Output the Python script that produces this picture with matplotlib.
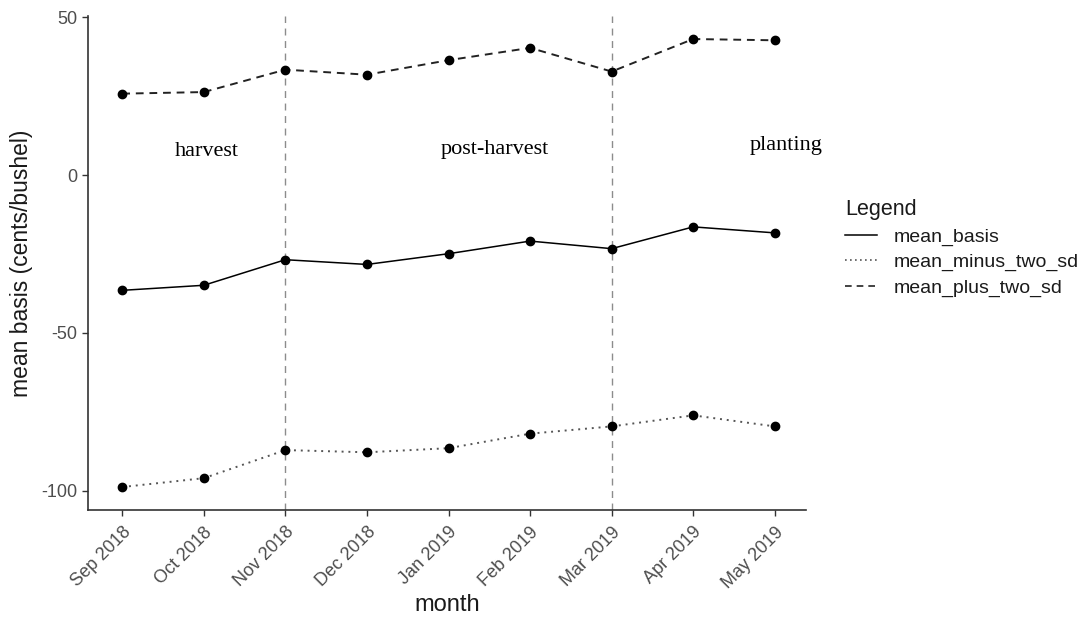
import matplotlib
matplotlib.use("Agg")
import matplotlib.pyplot as plt
from matplotlib.lines import Line2D

plt.rcParams["font.family"] = ["Liberation Sans", "DejaVu Sans"]
plt.rcParams["axes.unicode_minus"] = False

months = ["Sep 2018", "Oct 2018", "Nov 2018", "Dec 2018", "Jan 2019",
          "Feb 2019", "Mar 2019", "Apr 2019", "May 2019"]
mean_basis = [-36.5, -34.9, -26.8, -28.3, -24.9, -20.9, -23.3, -16.4, -18.3]
mean_plus_two_sd = [25.8, 26.3, 33.4, 31.8, 36.4, 40.3, 32.8, 43.1, 42.7]
mean_minus_two_sd = [-98.8, -96.0, -87.1, -87.8, -86.5, -81.9, -79.6, -76.1, -79.6]
season_breaks = ["Nov 2018", "Mar 2019"]
season_names = ["harvest", "post-harvest", "planting"]
season_x = [1.04, 4.57, 8.14]
season_y = [7.5, 8.0, 9.4]

x = list(range(len(months)))

fig = plt.figure(figsize=(10.86, 6.27), dpi=100)
ax = fig.add_axes([0.081, 0.187, 0.661, 0.787])

for m in season_breaks:
    ax.axvline(months.index(m), color="#8c8c8c", lw=1.0, ls=(0, (5, 4)), zorder=1)

ax.plot(x, mean_basis, color="black", lw=1.1, ls="-", marker="o", ms=6, zorder=3)
ax.plot(x, mean_minus_two_sd, color="#555555", lw=1.4, ls=(0, (1, 2.5)),
        marker="o", ms=6, mfc="black", mec="black", zorder=3)
ax.plot(x, mean_plus_two_sd, color="#222222", lw=1.4, ls=(0, (4, 3)),
        marker="o", ms=6, mfc="black", mec="black", zorder=3)

for name, sx, sy in zip(season_names, season_x, season_y):
    ax.text(sx, sy, name, family="Liberation Serif", fontsize=16,
            ha="center", va="center", color="black")

ax.set_xlim(-0.42, 8.38)
ax.set_ylim(-106, 50.3)
ax.set_xticks(x)
ax.set_xticklabels(months, rotation=45, ha="right", rotation_mode="anchor")
ax.set_yticks([50, 0, -50, -100])
ax.tick_params(axis="both", colors="#333333", labelcolor="#4d4d4d",
               labelsize=13, length=4, width=1)
ax.tick_params(axis="x", pad=6)
for s in ["top", "right"]:
    ax.spines[s].set_visible(False)
for s in ["left", "bottom"]:
    ax.spines[s].set_color("#333333")
    ax.spines[s].set_linewidth(1.2)

ax.set_xlabel("month", fontsize=17, color="#1a1a1a", labelpad=2)
ax.set_ylabel("mean basis (cents/bushel)", fontsize=16.5, color="#1a1a1a", labelpad=6)

handles = [
    Line2D([], [], color="black", lw=1.1, ls="-"),
    Line2D([], [], color="#555555", lw=1.2, ls=(0, (1, 2))),
    Line2D([], [], color="#222222", lw=1.2, ls=(0, (4, 3))),
]
labels = ["mean_basis", "mean_minus_two_sd", "mean_plus_two_sd"]
leg = fig.legend(handles, labels, title="Legend", loc="upper left",
                 bbox_to_anchor=(0.762, 0.71), frameon=False, fontsize=14,
                 title_fontsize=15.5, handlelength=1.65, handletextpad=0.85,
                 labelspacing=0.4, labelcolor="#1a1a1a", alignment="left")
leg.get_title().set_color("#1a1a1a")

fig.savefig("out.png", dpi=100)
